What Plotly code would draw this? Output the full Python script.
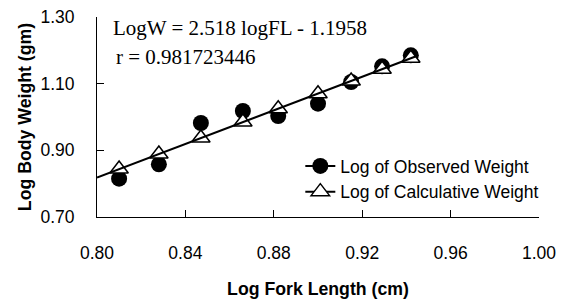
import plotly.graph_objects as go

# Data
log_fork_length = [0.810, 0.828, 0.847, 0.866, 0.882, 0.900, 0.915, 0.929, 0.942]
log_observed_weight = [0.815, 0.858, 0.982, 1.018, 1.003, 1.040, 1.105, 1.152, 1.185]
log_calculative_weight = [0.844, 0.889, 0.937, 0.985, 1.025, 1.070, 1.108, 1.143, 1.176]
trend_x = [0.80, 0.945]
trend_y = [0.8186, 1.1837]

x_ticks = [0.80, 0.84, 0.88, 0.92, 0.96, 1.00]
y_ticks = [0.70, 0.90, 1.10, 1.30]

fig = go.Figure()

fig.add_trace(go.Scatter(
    x=log_fork_length, y=log_observed_weight, mode="markers",
    marker=dict(symbol="circle", size=16, color="black"),
    showlegend=False, cliponaxis=False))
fig.add_trace(go.Scatter(
    x=log_fork_length, y=log_calculative_weight, mode="markers",
    marker=dict(symbol="triangle-up", size=16, color="white",
                line=dict(color="black", width=1.5)),
    showlegend=False, cliponaxis=False))
fig.add_trace(go.Scatter(
    x=trend_x, y=trend_y, mode="lines",
    line=dict(color="black", width=2), showlegend=False))

# legend entries
fig.add_trace(go.Scatter(
    x=[None], y=[None], mode="lines+markers", name="Log of Observed Weight",
    marker=dict(symbol="circle", size=16, color="black"),
    line=dict(color="black", width=2)))
fig.add_trace(go.Scatter(
    x=[None], y=[None], mode="lines+markers", name="Log of Calculative Weight",
    marker=dict(symbol="triangle-up", size=16, color="white",
                line=dict(color="black", width=1.5)),
    line=dict(color="black", width=2)))

axis_font = dict(family="Liberation Sans, Arial", size=17.5, color="black")
title_font = dict(family="Liberation Sans, Arial", size=17.7, color="black")

fig.update_layout(
    width=570, height=302,
    margin=dict(l=97, r=31, t=17, b=85),
    paper_bgcolor="white", plot_bgcolor="white",
    showlegend=True,
    legend=dict(x=0.46, y=0.345, xanchor="left", yanchor="top",
                bgcolor="rgba(0,0,0,0)", font=dict(family="Liberation Sans, Arial", size=17.5, color="black"),
                itemwidth=30, tracegroupgap=0),
    xaxis=dict(range=[0.80, 1.00], tickvals=x_ticks,
               ticktext=[f"{v:.2f}" for v in x_ticks],
               ticks="inside", ticklen=7, tickwidth=1, tickcolor="black",
               showline=True, linecolor="black", linewidth=1,
               showgrid=False, zeroline=False, tickfont=axis_font,
               ticklabelstandoff=20, automargin=False,
               title=dict(text="<b>Log Fork Length (cm)</b>", font=title_font, standoff=20)),
    yaxis=dict(range=[0.70, 1.30], tickvals=y_ticks,
               ticktext=[f"{v:.2f}" for v in y_ticks],
               ticks="inside", ticklen=7, tickwidth=1, tickcolor="black",
               showline=True, linecolor="black", linewidth=1,
               showgrid=False, zeroline=False, tickfont=axis_font,
               ticklabelstandoff=18, automargin=False,
               title=dict(text="<b>Log Body Weight (gm)</b>", font=title_font, standoff=4)),
    annotations=[
        dict(text="LogW = 2.518 logFL - 1.1958", xref="paper", yref="paper",
             x=(111 - 97) / 442, y=(216.7 - 28) / 200, xanchor="left", yanchor="middle",
             showarrow=False, font=dict(family="Liberation Serif, Times New Roman", size=21, color="black")),
        dict(text="r = 0.981723446", xref="paper", yref="paper",
             x=(114 - 97) / 442, y=(216.7 - 57) / 200, xanchor="left", yanchor="middle",
             showarrow=False, font=dict(family="Liberation Serif, Times New Roman", size=21, color="black")),
    ],
)

fig.write_html("out.html", config={"displayModeBar": False},
               post_script="document.body.style.margin='0';document.body.style.overflow='hidden';")
